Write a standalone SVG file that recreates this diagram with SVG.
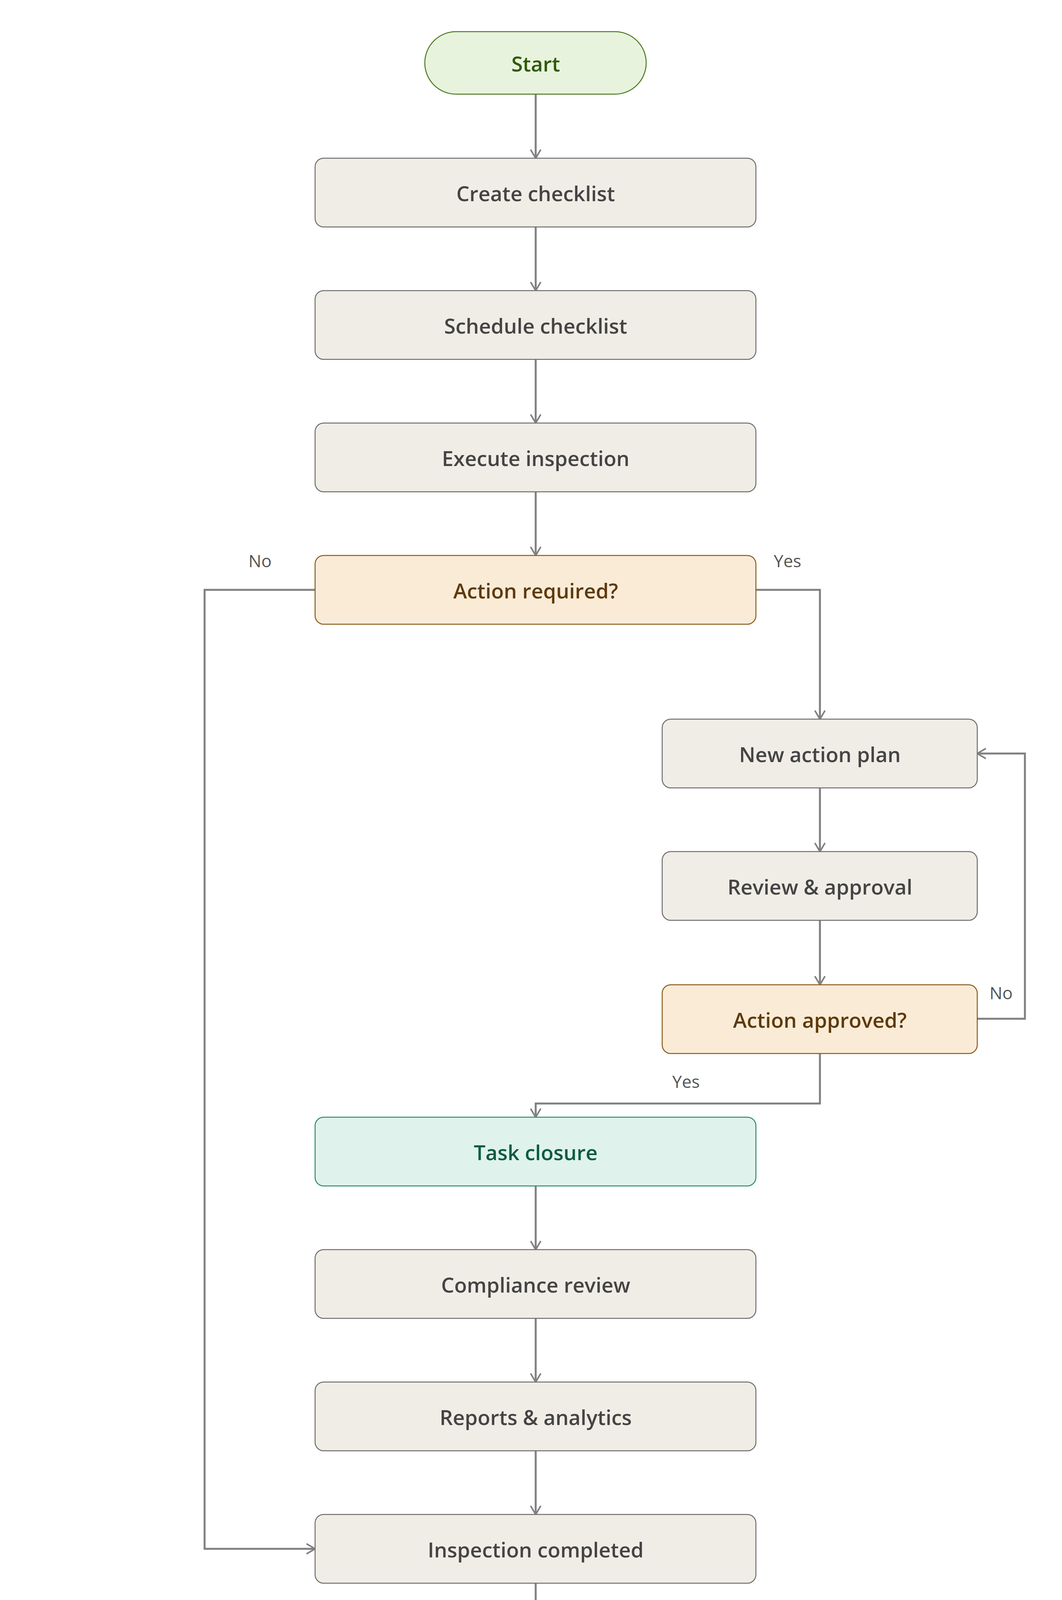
<svg xmlns="http://www.w3.org/2000/svg" width="2720" height="4496" viewBox="0 0 2720 4496">
<style>
text{font-family:"Open Sans","Noto Sans","Liberation Sans",sans-serif;text-anchor:middle;dominant-baseline:central}
.n rect{stroke-width:2.5}
.p rect{fill:#f0ede6;stroke:#6e6e6e}
.p text{fill:#444;font-size:53px;font-weight:600}
.d rect{fill:#faebd7;stroke:#8b5a1a}
.d text{fill:#5c3a0a;font-size:53px;font-weight:600}
.c path{fill:none;stroke:#808080;stroke-width:5}
.lbl{fill:#555;font-size:44px}
</style>
<defs>
<marker id="a" viewBox="0 0 24 28" refX="23" refY="14" markerWidth="24" markerHeight="28" markerUnits="userSpaceOnUse" orient="auto" overflow="visible">
<path d="M1,1 L23,14 L1,27" fill="none" stroke="#808080" stroke-width="4"/>
</marker>
</defs>
<g class="c">
<path d="M1372,240 V405" marker-end="url(#a)"/>
<path d="M1372,581 V744" marker-end="url(#a)"/>
<path d="M1372,920 V1083" marker-end="url(#a)"/>
<path d="M1372,1259 V1422" marker-end="url(#a)"/>
<path d="M1936,1510 H2100 V1841" marker-end="url(#a)"/>
<path d="M2100,2017 V2180" marker-end="url(#a)"/>
<path d="M2100,2356 V2521" marker-end="url(#a)"/>
<path d="M2503,2608 H2625 V1929 H2503" marker-end="url(#a)"/>
<path d="M2100,2697 V2825 H1372 V2860" marker-end="url(#a)"/>
<path d="M1372,3036 V3199" marker-end="url(#a)"/>
<path d="M1372,3375 V3538" marker-end="url(#a)"/>
<path d="M1372,3714 V3877" marker-end="url(#a)"/>
<path d="M807,1510 H524 V3965 H807" marker-end="url(#a)"/>
<path d="M1372,4053 V4216" marker-end="url(#a)"/>
<text class="lbl" x="666" y="1435">No</text>
<text class="lbl" x="2017" y="1435">Yes</text>
<text class="lbl" x="2564" y="2541">No</text>
<text class="lbl" x="1757" y="2768">Yes</text>
</g>
<g id="start" class="n"><rect x="1088" y="81" width="567" height="160" rx="80" fill="#e8f3dd" stroke="#4a7a1f"/><text x="1372" y="162" fill="#2f5a0a" font-size="53" font-weight="600">Start</text></g>
<g id="create" class="n p"><rect x="807" y="405" width="1129" height="176" rx="22"/><text x="1372" y="494">Create checklist</text></g>
<g id="schedule" class="n p"><rect x="807" y="744" width="1129" height="176" rx="22"/><text x="1372" y="833">Schedule checklist</text></g>
<g id="execute" class="n p"><rect x="807" y="1083" width="1129" height="176" rx="22"/><text x="1372" y="1172">Execute inspection</text></g>
<g id="required" class="n d"><rect x="807" y="1422" width="1129" height="176" rx="22"/><text x="1372" y="1511">Action required?</text></g>
<g id="plan" class="n p"><rect x="1696" y="1841" width="807" height="176" rx="22"/><text x="2100" y="1930">New action plan</text></g>
<g id="review" class="n p"><rect x="1696" y="2180" width="807" height="176" rx="22"/><text x="2100" y="2269">Review &amp; approval</text></g>
<g id="approved" class="n d"><rect x="1696" y="2521" width="807" height="176" rx="22"/><text x="2100" y="2610">Action approved?</text></g>
<g id="closure" class="n"><rect x="807" y="2860" width="1129" height="176" rx="22" fill="#dff3ec" stroke="#2e8a6a"/><text x="1372" y="2949" fill="#0e5a44" font-size="53" font-weight="600">Task closure</text></g>
<g id="compliance" class="n p"><rect x="807" y="3199" width="1129" height="176" rx="22"/><text x="1372" y="3288">Compliance review</text></g>
<g id="reports" class="n p"><rect x="807" y="3538" width="1129" height="176" rx="22"/><text x="1372" y="3627">Reports &amp; analytics</text></g>
<g id="completed" class="n p"><rect x="807" y="3877" width="1129" height="176" rx="22"/><text x="1372" y="3966">Inspection completed</text></g>
<g id="end" class="n"><rect x="1088" y="4216" width="567" height="160" rx="80" fill="#fbe9e9" stroke="#c0474c"/><text x="1372" y="4297" fill="#7a1418" font-size="53" font-weight="600">End</text></g>
</svg>
